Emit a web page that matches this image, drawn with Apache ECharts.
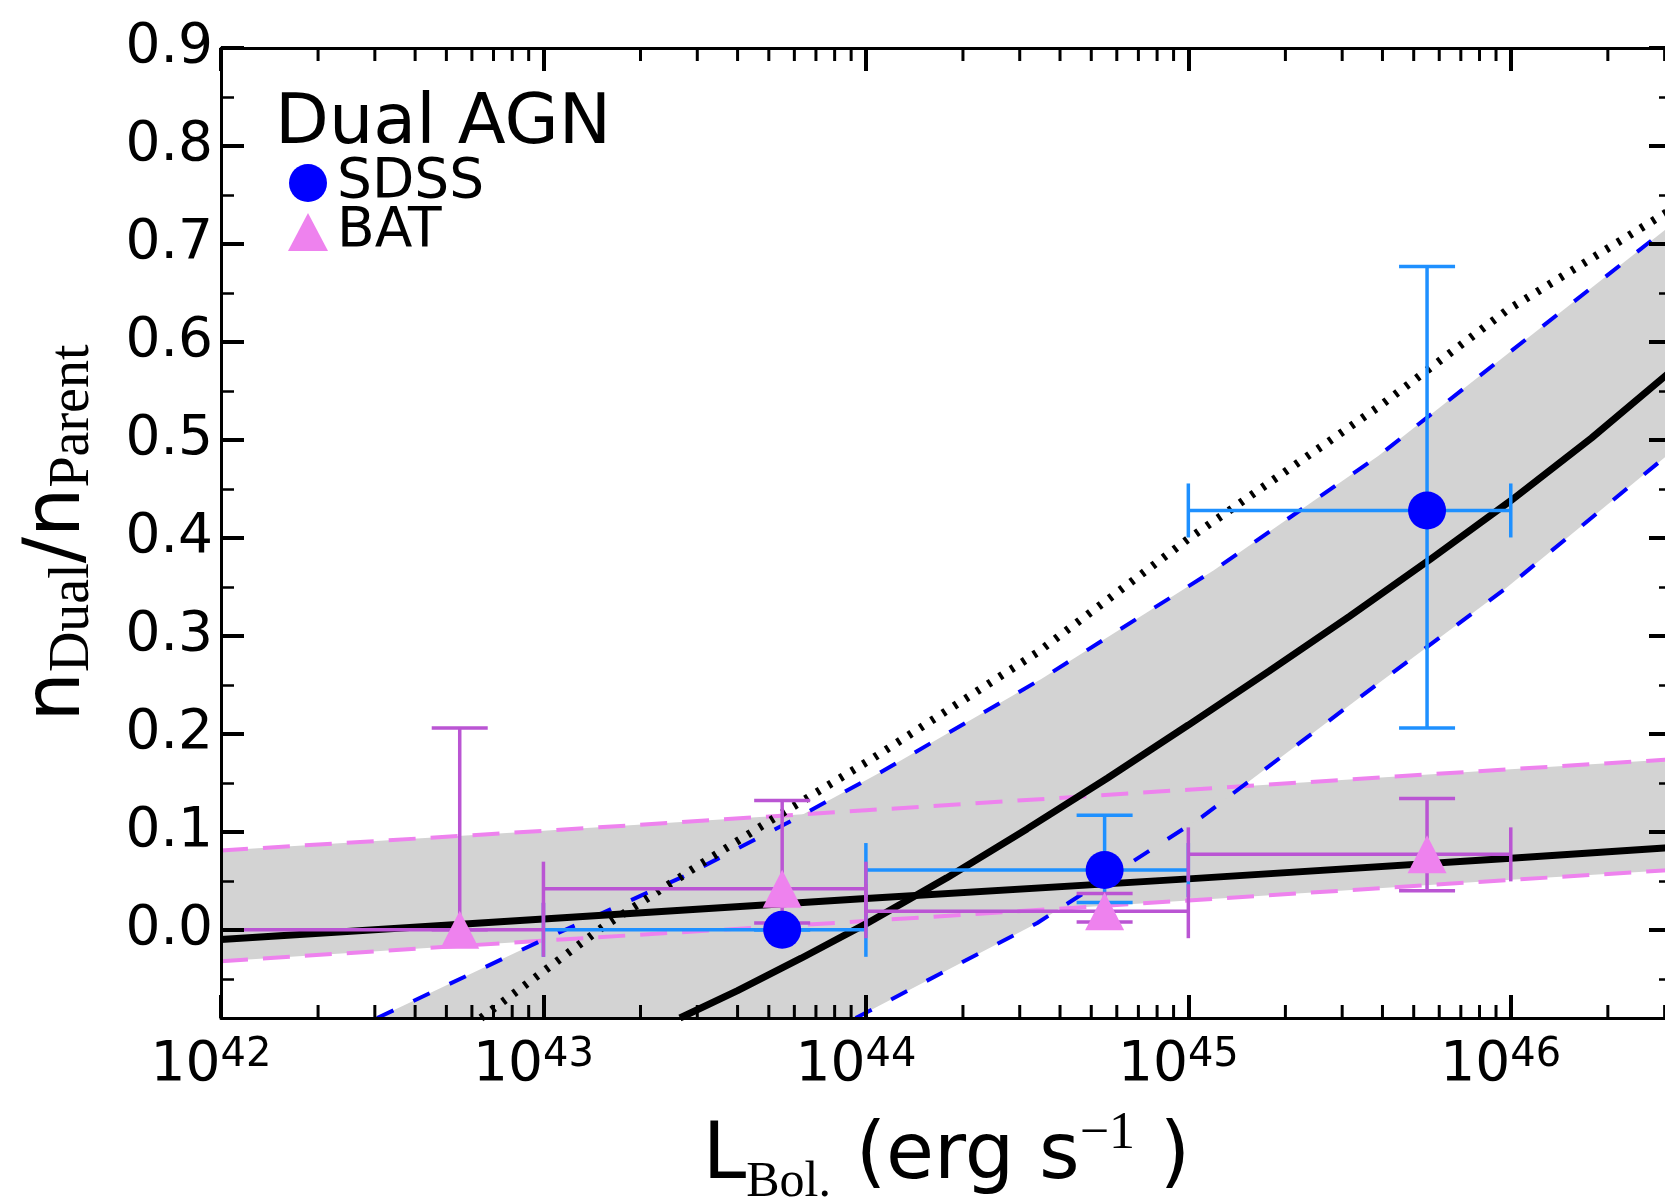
<!DOCTYPE html>
<html>
<head>
<meta charset="utf-8">
<script src="https://cdn.jsdelivr.net/npm/echarts@6/dist/echarts.min.js"></script>
<style>
html,body{margin:0;padding:0;overflow:hidden;background:#fff;}
#chart{width:1700px;height:1203px;}
</style>
</head>
<body>
<div id="chart"></div>
<script>
// ---------------- data ----------------
// SDSS dual-AGN fractions
const sdssL        = [5.5e43, 5.5e44, 5.5e45];
const sdssFrac     = [0.000, 0.061, 0.428];
const sdssLLow     = [1e43, 1e44, 1e45];
const sdssLHigh    = [1e44, 1e45, 1e46];
const sdssFracLow  = [0.000, 0.028, 0.206];
const sdssFracHigh = [0.000, 0.117, 0.677];

// BAT dual-AGN fractions
const batL        = [5.5e42, 5.5e43, 5.5e44, 5.5e45];
const batFrac     = [0.000, 0.042, 0.019, 0.077];
const batLLow     = [1e42, 1e43, 1e44, 1e45];
const batLHigh    = [1e43, 1e44, 1e45, 1e46];
const batFracLow  = [0.000, 0.007, 0.008, 0.040];
const batFracHigh = [0.206, 0.132, 0.037, 0.134];

// BAT fit (shallow) and its confidence band
const batFitL    = [1e42, 1e43, 1e44, 1e45, 1e46, 3.16e46];
const batFit     = [-0.010, 0.011, 0.032, 0.052, 0.073, 0.084];
const batBandUp  = [0.081, 0.101, 0.122, 0.143, 0.164, 0.174];
const batBandLo  = [-0.032, -0.011, 0.009, 0.030, 0.051, 0.061];

// SDSS fit (steep) and its confidence band
const sdssFitL    = [2.65e43, 4e43, 6.3e43, 1e44, 1.78e44, 3.16e44, 5.62e44, 1e45, 1.78e45, 3.16e45, 5.62e45, 1e46, 1.78e46, 3.16e46];
const sdssFit     = [-0.090, -0.062, -0.029, 0.006, 0.053, 0.103, 0.155, 0.209, 0.264, 0.320, 0.378, 0.438, 0.502, 0.571];
const sdssBandUpL = [3.05e42, 1e43, 2.7e43, 5.7e43, 1.1e44, 3.5e44, 1.2e45, 3.9e45, 9.7e45, 3e46, 3.16e46];
const sdssBandUp  = [-0.090, -0.010, 0.054, 0.109, 0.160, 0.256, 0.367, 0.484, 0.587, 0.714, 0.720];
const sdssBandLoL = [9.3e43, 3.4e44, 1.1e45, 3.9e45, 9.7e45, 3e46, 3.16e46];
const sdssBandLo  = [-0.090, 0.007, 0.115, 0.252, 0.349, 0.482, 0.488];

// dotted relation
const dotL    = [6.4e42, 1.53e43, 3.1e43, 5.5e43, 1.05e44, 3.4e44, 1e45, 3.9e45, 9.7e45, 3e46, 3.16e46];
const dotFrac = [-0.090, 0.003, 0.068, 0.119, 0.175, 0.283, 0.399, 0.534, 0.632, 0.731, 0.736];

// axes
const xMin = 1e42, xMax = 3.1623e46;
const yMin = -0.09, yMax = 0.9;
const yTickValues  = [0.0, 0.1, 0.2, 0.3, 0.4, 0.5, 0.6, 0.7, 0.8, 0.9];
const yTickLabels  = ['0.0','0.1','0.2','0.3','0.4','0.5','0.6','0.7','0.8','0.9'];
const yMinorValues = [-0.05, 0.05, 0.15, 0.25, 0.35, 0.45, 0.55, 0.65, 0.75, 0.85];
const xDecades     = [1e42, 1e43, 1e44, 1e45, 1e46];
const xMinorMult   = [2, 3, 4, 5, 6, 7, 8, 9];

// ---------------- helpers ----------------
const pairs = (xs, ys) => xs.map((x, i) => [x, ys[i]]);
// positions of the minor log ticks (2..9 x 10^n) on the x axis
const xMinorTicks = [];
xDecades.forEach(d => xMinorMult.forEach(k => { if (k * d <= xMax) xMinorTicks.push(k * d); }));

const FONT = 'DejaVu Sans';
const SERIF = 'Liberation Serif';
const GRID_RECT = {left: 221, top: 48, width: 1451, height: 970, containLabel: false, outerBoundsMode: 'none'};

function errorBars(name, color, xs, ys, xl, xh, yl, yh, z) {
  return {
    type: 'custom', name: name, z: z, silent: true, clip: true,
    xAxisIndex: 0, yAxisIndex: 0,
    data: xs.map((x, i) => [x, ys[i], xl[i], xh[i], yl[i], yh[i]]),
    encode: {x: [0, 2, 3], y: [1, 4, 5]},
    renderItem: function (params, api) {
      const x = api.value(0), y = api.value(1);
      const pL = api.coord([api.value(2), y]);
      const pR = api.coord([api.value(3), y]);
      const pB = api.coord([x, api.value(4)]);
      const pT = api.coord([x, api.value(5)]);
      const capV = 27, capH = 28;
      const st = {stroke: color, lineWidth: 3.5, fill: null};
      const ln = (x1, y1, x2, y2) => ({type: 'line', shape: {x1, y1, x2, y2}, style: st});
      return {type: 'group', children: [
        ln(pL[0], pL[1], pR[0], pR[1]),
        ln(pL[0], pL[1] - capV, pL[0], pL[1] + capV),
        ln(pR[0], pR[1] - capV, pR[0], pR[1] + capV),
        ln(pB[0], pB[1], pT[0], pT[1]),
        ln(pB[0] - capH, pB[1], pB[0] + capH, pB[1]),
        ln(pT[0] - capH, pT[1], pT[0] + capH, pT[1])
      ]};
    }
  };
}

function band(upL, up, loL, lo, z) {
  const pts = pairs(upL, up).concat(pairs(loL, lo).reverse());
  return {
    type: 'custom', silent: true, z: z, clip: true,
    xAxisIndex: 0, yAxisIndex: 0,
    data: [pts[0]],
    renderItem: function (params, api) {
      return {type: 'polygon', shape: {points: pts.map(p => api.coord(p))},
              style: {fill: '#d3d3d3', stroke: null}};
    }
  };
}

// minor log ticks on the bottom / top frame, drawn as thin filled bars placed by the x scale
function minorXTickMarks(yEdge, offset) {
  return {
    type: 'scatter', silent: true, z: 20, clip: false, xAxisIndex: 0, yAxisIndex: 0,
    data: xMinorTicks.map(v => [v, yEdge]),
    symbol: 'rect', symbolSize: [3, 13], symbolOffset: [0, offset],
    itemStyle: {color: '#000', opacity: 1}
  };
}

function lineSeries(xs, ys, color, width, type, z) {
  return {
    type: 'line', silent: true, z: z, xAxisIndex: 0, yAxisIndex: 0,
    data: pairs(xs, ys), showSymbol: false, symbol: 'none', smooth: false,
    lineStyle: {color: color, width: width, type: type, cap: 'butt'}
  };
}

const spine = {show: true, onZero: false, lineStyle: {color: '#000', width: 3}};

function xMajor(position, withLabels) {
  return {
    gridIndex: 0,
    type: 'log', logBase: 10, min: xMin, max: xMax, interval: 1, position: position, z: 10,
    axisLine: spine,
    axisTick: {show: true, inside: true, length: 23, lineStyle: {color: '#000', width: 4}},
    splitLine: {show: false}, minorTick: {show: false},
    axisLabel: withLabels ? {
      show: true, margin: 18, showMaxLabel: false,
      formatter: function (v) {
        const e = Math.log10(v), r = Math.round(e);
        return Math.abs(e - r) < 1e-3 ? '{b|10}{s|' + r + '}' : '';
      },
      rich: {
        b: {fontFamily: FONT, fontSize: 55, lineHeight: 60, color: '#000'},
        s: {fontFamily: FONT, fontSize: 40, lineHeight: 10.4, verticalAlign: 'top', color: '#000', padding: [0, 20, 0, 0]}
      }
    } : {show: false}
  };
}
function yMajor(position, withLabels) {
  return {
    gridIndex: 0,
    type: 'value', min: yMin, max: yMax, position: position, z: 10,
    axisLine: spine, splitLine: {show: false},
    axisTick: {show: true, inside: true, length: 23, customValues: yTickValues, lineStyle: {color: '#000', width: 4}},
    axisLabel: withLabels ? {
      show: true, customValues: yTickValues, margin: 8,
      formatter: function (v) { return yTickLabels[Math.round(v * 10)]; },
      fontFamily: FONT, fontSize: 55, color: '#000', padding: [0, 0, 8, 0]
    } : {show: false}
  };
}
function yMinor(position) {
  return {
    gridIndex: 1,
    type: 'value', min: yMin, max: yMax, position: position, z: 10,
    axisLine: {show: false, onZero: false}, axisLabel: {show: false}, splitLine: {show: false},
    axisTick: {show: true, inside: true, length: 13, customValues: yMinorValues, lineStyle: {color: '#000', width: 2.5}}
  };
}

const xAxes = [
  xMajor('bottom', true), xMajor('top', false),
  {gridIndex: 1, type: 'log', min: xMin, max: xMax, show: false, splitLine: {show: false}}
];
xAxes[0].name = '{m|L}{sub|Bol.}{m| (erg s}{sup|\u22121}{m| )}';
xAxes[0].nameLocation = 'middle';
xAxes[0].nameGap = 90;
xAxes[0].nameMoveOverlap = false;
xAxes[0].nameTextStyle = {
  rich: {
    m: {fontFamily: FONT, fontSize: 78, lineHeight: 100, color: '#000'},
    sub: {fontFamily: SERIF, fontSize: 50, lineHeight: 14, verticalAlign: 'bottom', color: '#000'},
    sup: {fontFamily: SERIF, fontSize: 52, lineHeight: 54, verticalAlign: 'top', color: '#000'}
  }
};

const yAxes = [yMajor('left', true), yMajor('right', false), yMinor('left'), yMinor('right')];
yAxes[0].name = '{m|n}{s|Dual}{m|/n}{s|Parent}';
yAxes[0].nameLocation = 'middle';
yAxes[0].nameRotate = 90;
yAxes[0].nameGap = 120;
yAxes[0].nameMoveOverlap = false;
yAxes[0].nameTextStyle = {
  rich: {
    m: {fontFamily: FONT, fontSize: 78, lineHeight: 84, color: '#000'},
    s: {fontFamily: SERIF, fontSize: 56, lineHeight: 25.8, verticalAlign: 'bottom', color: '#000'}
  }
};

const option = {
  animation: false,
  backgroundColor: '#fff',
  grid: [Object.assign({}, GRID_RECT), Object.assign({}, GRID_RECT)],
  title: {
    text: 'Dual AGN', left: 275, top: 90, padding: 0,
    textStyle: {fontFamily: FONT, fontSize: 70, fontWeight: 'normal', color: '#000', lineHeight: 70}
  },
  legend: {
    data: ['SDSS', 'BAT'], orient: 'vertical', left: 288, top: 155.5, padding: 0,
    itemWidth: 40, itemHeight: 38, itemGap: -6, selectedMode: false,
    textStyle: {fontFamily: FONT, fontSize: 55, color: '#000', padding: [0, 0, 0, 4]}
  },
  xAxis: xAxes,
  yAxis: yAxes,
  series: [
    band(batFitL, batBandUp, batFitL, batBandLo, 1),
    band(sdssBandUpL, sdssBandUp, sdssBandLoL, sdssBandLo, 1),
    lineSeries(batFitL, batBandUp, '#ee82ee', 4, [27, 15], 2),
    lineSeries(batFitL, batBandLo, '#ee82ee', 4, [27, 15], 2),
    lineSeries(sdssBandUpL, sdssBandUp, '#0000ff', 4, [18, 22], 2),
    lineSeries(sdssBandLoL, sdssBandLo, '#0000ff', 4, [18, 22], 2),
    lineSeries(batFitL, batFit, '#000000', 7, 'solid', 3),
    lineSeries(sdssFitL, sdssFit, '#000000', 7, 'solid', 3),
    lineSeries(dotL, dotFrac, '#000000', 8, [3.5, 10], 3),
    errorBars('SDSS err', '#1e90ff', sdssL, sdssFrac, sdssLLow, sdssLHigh, sdssFracLow, sdssFracHigh, 4),
    errorBars('BAT err', '#ba55d3', batL, batFrac, batLLow, batLHigh, batFracLow, batFracHigh, 5),
    {
      type: 'scatter', name: 'SDSS', z: 6, silent: true, xAxisIndex: 0, yAxisIndex: 0,
      data: pairs(sdssL, sdssFrac), symbol: 'circle', symbolSize: 38,
      itemStyle: {color: '#0000ff', opacity: 1}
    },
    {
      type: 'scatter', name: 'BAT', z: 6, silent: true, xAxisIndex: 0, yAxisIndex: 0,
      data: pairs(batL, batFrac), symbol: 'triangle', symbolSize: [39, 38],
      itemStyle: {color: '#ee82ee', opacity: 1}
    },
    minorXTickMarks(yMin, -6.5),
    minorXTickMarks(yMax, 6.5)
  ]
};

const chart = echarts.init(document.getElementById('chart'), null, {renderer: 'canvas'});
chart.setOption(option);
</script>
</body>
</html>
